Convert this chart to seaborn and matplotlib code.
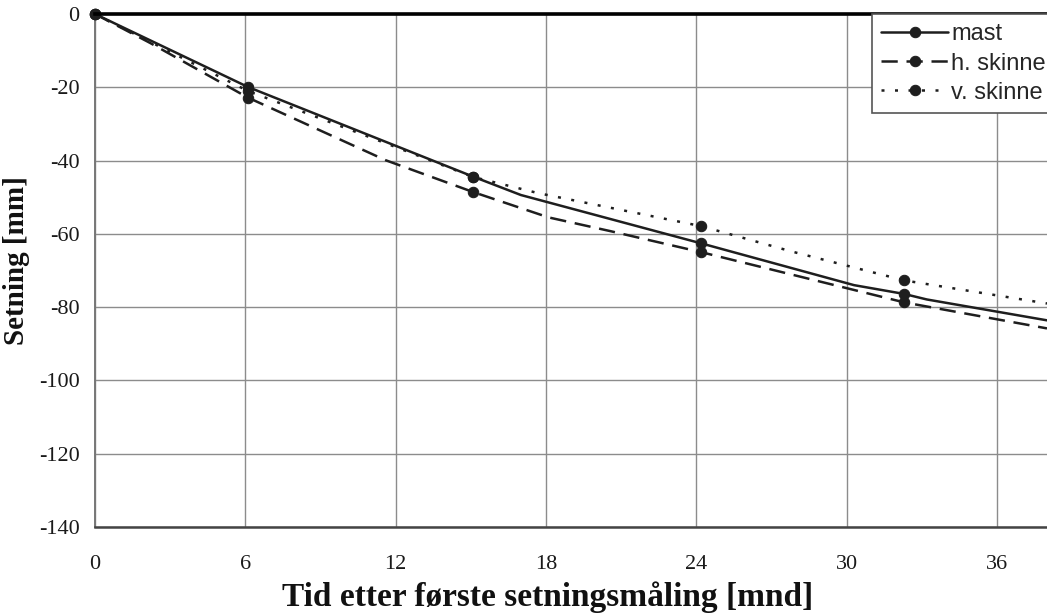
import matplotlib
matplotlib.use("Agg")
import matplotlib.pyplot as plt
import seaborn as sns
import pandas as pd

# ---- data ----
mast_t = [0, 6.1, 15.1, 17.0, 24.2, 30.3, 32.3, 33.2, 38.0]
mast_v = [0, -19.9, -44.4, -49.4, -62.6, -74.0, -76.4, -77.9, -83.6]
mast_marks = [0, 1, 2, 4, 6]

hsk_t = [0, 2.2, 6.1, 11.6, 15.1, 18.1, 20.6, 24.2, 32.3, 38.0]
hsk_v = [0, -7.9, -22.8, -39.9, -48.6, -55.5, -59.3, -65.0, -78.7, -85.8]
hsk_marks = [0, 2, 4, 7, 8]

vsk_t = [0, 6.1, 12.0, 15.1, 17.7, 24.2, 27.8, 32.3, 38.0]
vsk_v = [0, -21.0, -36.3, -44.5, -48.9, -57.9, -64.8, -72.7, -79.0]
vsk_marks = [0, 1, 3, 5, 7]

series_names = ["mast", "h. skinne", "v. skinne"]
x_ticks = [0, 6, 12, 18, 24, 30, 36]
y_ticks = [0, -20, -40, -60, -80, -100, -120, -140]
x_label = "Tid etter første setningsmåling [mnd]"
y_label = "Setning [mm]"

# ---- styling ----
sns.set_theme(style="whitegrid")
plt.rcParams["font.family"] = ["Liberation Serif", "DejaVu Serif"]

W, H = 1047, 615
fig = plt.figure(figsize=(W / 100, H / 100), dpi=100)
left, right, top, bottom = 95, 1047, 14, 527
ax = fig.add_axes([left / W, 1 - bottom / H, (right - left) / W, (bottom - top) / H])
ax.set_facecolor("white")

line_col = "#1e1e1e"
styles = ["-", (0, (6.5, 3.5)), (0, (1.2, 4.2))]
data = [(mast_t, mast_v, mast_marks), (hsk_t, hsk_v, hsk_marks), (vsk_t, vsk_v, vsk_marks)]

for name, (t, v, mk), ls in zip(series_names, data, styles):
    df = pd.DataFrame({"t": t, "v": v})
    sns.lineplot(data=df, x="t", y="v", ax=ax, color=line_col, linewidth=1.8,
                 linestyle=ls, marker="o", markersize=7.5, markevery=mk,
                 markeredgecolor=line_col, markerfacecolor=line_col,
                 label=name, clip_on=False, zorder=5, sort=False, legend=False)

ax.set_xlim(0, 38)
ax.set_ylim(-140, 0)
ax.set_xticks(x_ticks)
ax.set_yticks(y_ticks)
ax.set_xticklabels([str(x) for x in x_ticks])
ax.set_yticklabels([str(y) for y in y_ticks])
ax.grid(True, color="#8c8c8c", linewidth=1.0)
ax.tick_params(axis="both", length=0, labelsize=16, colors="#1a1a1a")
ax.tick_params(axis="x", pad=20)
ax.tick_params(axis="y", pad=11)

for s in ["top", "bottom", "left", "right"]:
    ax.spines[s].set_visible(True)
ax.spines["top"].set_color("black")
ax.spines["top"].set_linewidth(2.6)
ax.spines["top"].set_zorder(6)
ax.spines["bottom"].set_color("#444444")
ax.spines["bottom"].set_linewidth(1.8)
ax.spines["left"].set_color("#777777")
ax.spines["left"].set_linewidth(1.4)
ax.spines["right"].set_visible(False)

ax.set_xlabel(x_label, fontsize=24, fontweight="bold", color="#111111")
ax.xaxis.set_label_coords((548 - left) / (right - left), -0.137)
ax.xaxis.label.set_verticalalignment("center")
ax.set_ylabel(y_label, fontsize=21, fontweight="bold", color="#111111")
ax.yaxis.set_label_coords(-0.068, 0.52)

handles, labels = ax.get_legend_handles_labels()
leg = ax.legend(handles, labels, loc="upper left",
                bbox_to_anchor=(872 / W, 1 - 14 / H), bbox_transform=fig.transFigure,
                borderaxespad=0, borderpad=0.4, handlelength=2.8, handletextpad=0.15,
                labelspacing=0.3, fancybox=False, frameon=True,
                prop={"family": ["Liberation Sans", "DejaVu Sans"], "size": 17})
leg.get_frame().set_edgecolor("#555555")
leg.get_frame().set_linewidth(1.2)
leg.get_frame().set_facecolor("white")
leg.get_frame().set_alpha(1)
leg.set_zorder(10)

fig.savefig("out.png", dpi=100)
